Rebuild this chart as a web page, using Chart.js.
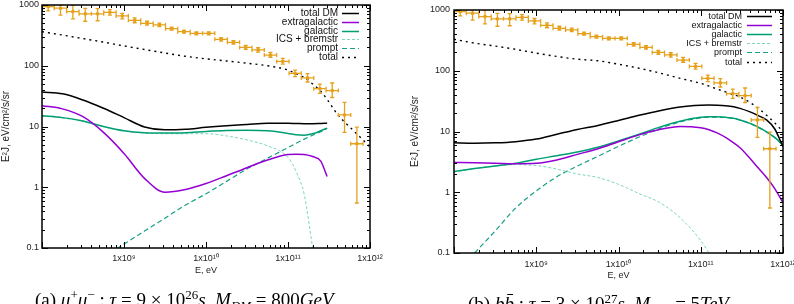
<!DOCTYPE html>
<html>
<head>
<meta charset="utf-8">
<script src="https://cdn.jsdelivr.net/npm/chart.js@4.4.1/dist/chart.umd.min.js"></script>
<style>
html,body{margin:0;padding:0;background:#fff;overflow:hidden;width:794px;height:304px;position:relative;}
.panel{position:absolute;top:0;height:304px;}
#pa{left:0;width:397px;}
#pb{left:397px;width:420px;}
.cap{position:absolute;font-family:"Liberation Serif","Times New Roman",serif;font-size:19px;line-height:19px;white-space:nowrap;color:#000;}
.cap .sp{font-size:13px;position:relative;top:-7px;}
.cap .sb{font-size:13px;position:relative;top:4px;}
</style>
</head>
<body>
<div class="panel" id="pa"><canvas id="ca" width="397" height="304"></canvas></div>
<div class="panel" id="pb"><canvas id="cb" width="420" height="304"></canvas></div>
<div class="cap" id="capa" style="left:35px;top:290px;">(a) <i>μ</i><span class="sp">+</span><i>μ</i><span class="sp">−</span> : <i>τ</i> = 9 × 10<span class="sp">26</span><i>s</i>, <i>M</i><span class="sb"><i>DM</i></span> = 800<i>GeV</i></div>
<div class="cap" id="capb" style="left:468px;top:294px;">(b) <i>b</i><i>b̄</i> : <i>τ</i> = 3 × 10<span class="sp">27</span><i>s</i>, <i>M</i><span class="sb"><i>DM</i></span> = 5<i>TeV</i></div>
<script>
// ---------- Fermi-LAT data points (eV, E^2 J in eV/cm^2/s/sr) ----------
const fermiE    = [1.19e8, 1.68e8, 2.38e8, 3.37e8, 4.76e8, 6.73e8, 9.53e8, 1.35e9, 1.91e9, 2.70e9, 3.81e9, 5.39e9, 7.63e9, 1.08e10, 1.53e10, 2.16e10, 3.05e10, 4.32e10, 6.11e10, 8.64e10, 1.22e11, 1.73e11, 2.45e11, 3.46e11, 4.89e11, 6.92e11];
const fermiELo  = [1.00e8, 1.41e8, 2.00e8, 2.83e8, 4.00e8, 5.66e8, 8.01e8, 1.13e9, 1.60e9, 2.27e9, 3.21e9, 4.53e9, 6.41e9, 9.07e9, 1.28e10, 1.82e10, 2.57e10, 3.63e10, 5.14e10, 7.27e10, 1.03e11, 1.45e11, 2.06e11, 2.91e11, 4.11e11, 5.82e11];
const fermiEHi  = [1.41e8, 2.00e8, 2.83e8, 4.00e8, 5.66e8, 8.01e8, 1.13e9, 1.60e9, 2.27e9, 3.21e9, 4.53e9, 6.41e9, 9.07e9, 1.28e10, 1.82e10, 2.57e10, 3.63e10, 5.14e10, 7.27e10, 1.03e11, 1.45e11, 2.06e11, 2.91e11, 4.11e11, 5.82e11, 8.23e11];
const fermiFlux = [940, 885, 780, 715, 715, 758, 660, 560, 500, 470, 408, 364, 340, 342, 272, 243, 200, 182, 150, 118, 75, 63, 42, 39, 15.5, 5.2];
const fermiLow  = [800, 680, 590, 540, 550, 680, 590, 510, 465, 440, 385, 345, 322, 322, 255, 228, 186, 168, 138, 106, 66, 54, 35, 30, 8, 0.55];
const fermiHigh = [1100, 1000, 1000, 880, 870, 840, 730, 615, 540, 505, 432, 385, 360, 362, 290, 260, 216, 198, 166, 132, 85, 74, 50, 52, 25, 9.8];

// ---------- energy grid for model curves (eV) ----------
const gridE = [1e8, 1.78e8, 3.16e8, 5.62e8, 1e9, 1.78e9, 3.16e9, 5.62e9, 1e10, 1.78e10, 3.16e10, 5.62e10, 1e11, 1.26e11, 1.58e11, 2e11, 2.51e11, 3e11, 3.98e11, 5.01e11, 6.31e11, 7.94e11, 1e12];

const seriesNames = ['total DM', 'extragalactic', 'galactic', 'ICS + bremstr', 'prompt', 'total'];

// ---------- panel (a): mu+ mu- ----------
const aTotalDM = [37, 34.5, 27.3, 20, 14, 9.8, 8.8, 9.0, 9.7, 10.3, 10.8, 11.3, 11.3, 11.2, 11.1, 11.1, 11.2, 11.3, null, null, null, null, null];
const aExtra   = [22, 19.5, 14.5, 8.0, 3.6, 1.4, 0.83, 0.92, 1.15, 1.55, 2.1, 2.8, 3.45, 3.5, 3.45, 3.2, 2.7, 1.5, null, null, null, null, null];
const aGal     = [15, 14, 12.3, 10, 8.5, 7.9, 7.8, 7.9, 8.3, 8.6, 8.7, 8.5, 7.7, 7.3, 7.2, 7.6, 8.5, 9.4, null, null, null, null, null];
const aICS     = [14.8, 13.8, 12.1, 9.9, 8.4, 7.8, 7.6, 7.6, 7.6, 7.0, 6.0, 4.8, 3.1, 1.8, 0.75, 0.1, null, null, null, null, null, null, null];
const aPrompt  = [null, null, null, 0.07, 0.116, 0.19, 0.31, 0.51, 0.78, 1.25, 2.0, 3.0, 4.5, 5.3, 6.2, 7.2, 8.2, 9.3, null, null, null, null, null];
const aTotal   = [363, 320, 280, 245, 212, 185, 162, 143, 130, 120, 110, 100, 85, 74, 64, 50, 38, 28, 16, 11.5, 8.5, 6.3, 4.6];

// ---------- panel (b): b bbar ----------
const bTotalDM = [6.5, 6.4, 6.5, 6.8, 7.5, 9.0, 10.8, 12.6, 15.2, 18.5, 22, 25.3, 27, 27.2, 27, 26.5, 25.5, 24, 21, 18.3, 15.5, 11, 5.6];
const bExtra   = [3.1, 3.05, 3.0, 2.95, 3.0, 3.4, 4.2, 5.2, 6.8, 8.8, 10.8, 12.1, 11.5, 10.7, 9.5, 8.0, 6.5, 5.4, 3.6, 2.5, 1.75, 1.15, 0.67];
const bGal     = [2.2, 2.45, 2.7, 3.0, 3.5, 4.0, 4.6, 5.5, 7.0, 9.0, 11.8, 14.8, 17.1, 17.5, 17.5, 17.1, 16.5, 15.5, 13.6, 11.8, 9.9, 8.0, 6.0];
const bICS     = [2.15, 2.45, 2.7, 2.85, 2.75, 2.4, 2.0, 1.75, 1.35, 0.95, 0.68, 0.38, 0.16, 0.1, null, null, null, null, null, null, null, null, null];
const bPrompt  = [null, 0.1, 0.23, 0.55, 1.05, 1.8, 2.7, 3.9, 5.7, 8.1, 11.2, 14.4, 16.8, 17.3, 17.3, 17.0, 16.4, 15.4, 13.5, 11.7, 9.8, 7.9, 5.9];
const bTotal   = [330, 285, 255, 225, 195, 172, 155, 146, 128, 110, 92, 75, 62, 56, 50, 45, 40.5, 37, 30, 24, 18.5, 13.8, 10];

// ---------- axis ticks ----------
const xTickValues = [1e9, 1e10, 1e11, 1e12];
const xTickLabels = ['1x10⁹', '1x10¹⁰', '1x10¹¹', '1x10¹²'];
const yTickValues = [0.1, 1, 10, 100, 1000];
const yTickLabels = ['0.1', '1', '10', '100', '1000'];

const SANS = '"Liberation Sans", Arial, Helvetica, sans-serif';
const ORANGE = '#e6a11c';
const lineStyles = [
  {color: '#000000', width: 1.5, dash: []},
  {color: '#9400d3', width: 1.5, dash: []},
  {color: '#009e73', width: 1.5, dash: []},
  {color: '#7fd6bf', width: 1.0, dash: [3, 2]},
  {color: '#16a085', width: 1.2, dash: [5, 3]},
  {color: '#000000', width: 1.4, dash: [2, 4]}
];

// frame + gnuplot-style inward ticks on all sides
const frameTicks = {
  id: 'frameTicks',
  afterDatasetsDraw(chart) {
    const {ctx, chartArea: a, scales: {x, y}} = chart;
    ctx.save();
    ctx.strokeStyle = '#000';
    ctx.lineWidth = 1;
    ctx.beginPath();
    const xd0 = Math.round(Math.log10(x.min)), xd1 = Math.round(Math.log10(x.max));
    for (let d = xd0; d <= xd1; d++) {
      for (let m = 1; m <= 9; m++) {
        const v = m * Math.pow(10, d);
        if (v > x.max * 1.0001) break;
        const px = Math.round(x.getPixelForValue(v)) + 0.5;
        const L = m === 1 ? 6 : 3;
        ctx.moveTo(px, a.bottom); ctx.lineTo(px, a.bottom - L);
        ctx.moveTo(px, a.top); ctx.lineTo(px, a.top + L);
      }
    }
    const yd0 = Math.round(Math.log10(y.min)), yd1 = Math.round(Math.log10(y.max));
    for (let d = yd0; d <= yd1; d++) {
      for (let m = 1; m <= 9; m++) {
        const v = m * Math.pow(10, d);
        if (v > y.max * 1.0001) break;
        const py = Math.round(y.getPixelForValue(v)) + 0.5;
        const L = m === 1 ? 6 : 3;
        ctx.moveTo(a.left, py); ctx.lineTo(a.left + L, py);
        ctx.moveTo(a.right, py); ctx.lineTo(a.right - L, py);
      }
    }
    ctx.stroke();
    ctx.lineWidth = 1.5;
    ctx.strokeRect(a.left, a.top, a.right - a.left, a.bottom - a.top);
    ctx.restore();
  }
};

// error bars for the Fermi data
const errBars = {
  id: 'errBars',
  afterDatasetsDraw(chart) {
    const {ctx, chartArea: a, scales: {x, y}} = chart;
    ctx.save();
    ctx.beginPath();
    ctx.rect(a.left, a.top, a.right - a.left, a.bottom - a.top);
    ctx.clip();
    ctx.strokeStyle = ORANGE;
    ctx.lineWidth = 1.3;
    ctx.beginPath();
    fermiE.forEach((e, i) => {
      const px = x.getPixelForValue(e), py = y.getPixelForValue(fermiFlux[i]);
      const pl = x.getPixelForValue(fermiELo[i]), pr = x.getPixelForValue(fermiEHi[i]);
      const pt = y.getPixelForValue(fermiHigh[i]), pb = y.getPixelForValue(fermiLow[i]);
      ctx.moveTo(pl, py); ctx.lineTo(pr, py);
      ctx.moveTo(pl, py - 2); ctx.lineTo(pl, py + 2);
      ctx.moveTo(pr, py - 2); ctx.lineTo(pr, py + 2);
      ctx.moveTo(px, pt); ctx.lineTo(px, pb);
      ctx.moveTo(px - 2, pt); ctx.lineTo(px + 2, pt);
      ctx.moveTo(px - 2, pb); ctx.lineTo(px + 2, pb);
    });
    ctx.stroke();
    ctx.restore();
  }
};

// gnuplot-like key: right-aligned text, sample line to its right
const gnuLegend = {
  id: 'gnuLegend',
  afterDatasetsDraw(chart, args, o) {
    const {ctx, chartArea: a} = chart;
    ctx.save();
    ctx.font = o.fontSize + 'px ' + SANS;
    ctx.textAlign = 'right';
    ctx.textBaseline = 'middle';
    ctx.fillStyle = '#111';
    let row = 0;
    chart.data.datasets.forEach(ds => {
      if (!seriesNames.includes(ds.label)) return;
      const yy = Math.round(a.top + o.top + row * o.rowH) + 0.5;
      ctx.fillText(ds.label, a.right - o.textRight, yy);
      ctx.strokeStyle = ds.borderColor;
      ctx.lineWidth = ds.borderWidth;
      ctx.setLineDash(ds.borderDash || []);
      ctx.beginPath();
      ctx.moveTo(a.right - o.sampleStart, yy);
      ctx.lineTo(a.right - o.sampleEnd, yy);
      ctx.stroke();
      ctx.setLineDash([]);
      row++;
    });
    ctx.restore();
  }
};

function makeChart(canvasId, curves, cfg) {
  const datasets = curves.map((vals, i) => ({
    label: seriesNames[i],
    data: gridE.map((e, k) => ({x: e, y: vals[k]})),
    borderColor: lineStyles[i].color,
    backgroundColor: lineStyles[i].color,
    borderWidth: lineStyles[i].width,
    borderDash: lineStyles[i].dash,
    pointRadius: 0,
    fill: false,
    spanGaps: false,
    cubicInterpolationMode: 'monotone',
    clip: 0
  }));
  datasets.push({
    label: 'Fermi-LAT',
    data: fermiE.map((e, k) => ({x: e, y: fermiFlux[k]})),
    showLine: false,
    pointStyle: 'rect',
    pointRadius: 1.6,
    pointBackgroundColor: ORANGE,
    pointBorderColor: ORANGE,
    borderColor: ORANGE,
    backgroundColor: ORANGE,
    clip: 0
  });
  const tickFont = {family: SANS, size: 9};
  const titleFont = {family: SANS, size: cfg.yTitleSize};
  return new Chart(document.getElementById(canvasId), {
    type: 'line',
    data: {datasets},
    plugins: [errBars, frameTicks, gnuLegend],
    options: {
      responsive: false,
      animation: false,
      devicePixelRatio: 1,
      events: [],
      layout: {padding: cfg.pad},
      plugins: {
        legend: {display: false},
        tooltip: {enabled: false},
        title: {display: false},
        gnuLegend: cfg.legend
      },
      scales: {
        x: {
          type: 'logarithmic', position: 'bottom', min: 1e8, max: 1e12,
          afterBuildTicks: s => { s.ticks = xTickValues.map(v => ({value: v})); },
          ticks: {
            callback: v => xTickLabels[xTickValues.indexOf(v)],
            autoSkip: false, maxRotation: 0, minRotation: 0,
            padding: cfg.xPad, color: '#222', font: tickFont
          },
          grid: {display: false, drawTicks: false},
          border: {display: false},
          title: {display: true, text: 'E, eV', color: '#222', font: tickFont, padding: {top: 0, bottom: 0}},
          afterFit: s => { s.height = cfg.xH; s.paddingLeft = 0; s.paddingRight = 0; s.paddingTop = 0; s.paddingBottom = 0; }
        },
        y: {
          type: 'logarithmic', position: 'left', min: 0.1, max: 1000,
          afterBuildTicks: s => { s.ticks = yTickValues.map(v => ({value: v})); },
          ticks: {
            callback: v => yTickLabels[yTickValues.indexOf(v)],
            autoSkip: false, padding: cfg.yPad, color: '#222', font: tickFont
          },
          grid: {display: false, drawTicks: false},
          border: {display: false},
          title: {display: true, text: 'E²J, eV/cm²/s/sr', color: '#222', font: titleFont, padding: {top: cfg.yTitlePad, bottom: 0}},
          afterFit: s => { s.width = cfg.yW; s.paddingLeft = 0; s.paddingRight = 0; s.paddingTop = 0; s.paddingBottom = 0; }
        }
      }
    }
  });
}

makeChart('ca', [aTotalDM, aExtra, aGal, aICS, aPrompt, aTotal], {
  pad: {left: 0, top: 5, right: 27, bottom: 28},
  xH: 28, yW: 42, xPad: 5, yPad: 3, yTitlePad: 0, yTitleSize: 10,
  legend: {fontSize: 10, top: 7.7, rowH: 8.9, textRight: 32, sampleStart: 28, sampleEnd: 11}
});
makeChart('cb', [bTotalDM, bExtra, bGal, bICS, bPrompt, bTotal], {
  pad: {left: 12, top: 10, right: 34, bottom: 23},
  xH: 28, yW: 45, xPad: 6, yPad: 4, yTitlePad: 0, yTitleSize: 10,
  legend: {fontSize: 9, top: 6, rowH: 9.1, textRight: 41, sampleStart: 36, sampleEnd: 11}
});
</script>
</body>
</html>
